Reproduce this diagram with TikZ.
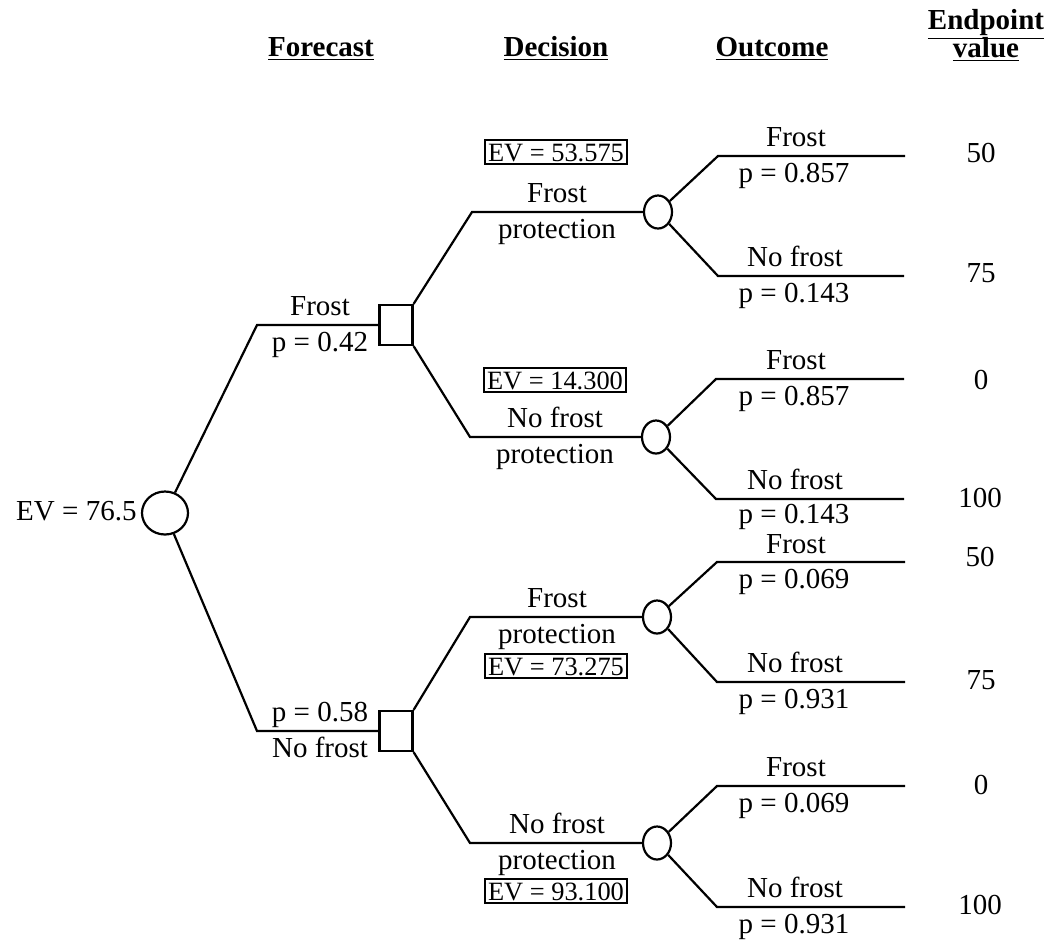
\documentclass[tikz,border=0pt]{standalone}
\usepackage{fontspec}
\setmainfont{Liberation Serif}
\usepackage{tikz}
\usetikzlibrary{positioning, shapes.geometric}

\begin{document}
\begin{tikzpicture}[x=0.5pt, y=-0.5pt,
    every node/.style={font=\fontsize{14.5}{17}\selectfont},
    branch/.style={line width=1.1pt},
    chance/.style={draw, line width=1.1pt, ellipse, minimum width=14pt, minimum height=16.5pt, inner sep=0pt},
    choice/.style={draw, line width=1.1pt, rectangle, minimum width=16.5pt, minimum height=20pt, inner sep=0pt},
    lbl/.style={inner sep=0pt, text height=9.7pt, text depth=2.2pt},
    evbox/.style={draw, line width=0.9pt, inner xsep=1.5pt, inner ysep=1.2pt, text height=9.5pt, text depth=0pt, font=\fontsize{13.2}{15}\selectfont},
    head/.style={anchor=base, font=\fontsize{14.5}{17}\selectfont\bfseries}]
    \useasboundingbox (0,0) rectangle (1049,939);

    % column headings
    \node (hForecast) [head] at (321,56) {\underline{Forecast}};
    \node (hDecision) [head] at (556,56) {\underline{Decision}};
    \node (hOutcome) [head] at (772,56) {\underline{Outcome}};
    \node (hEndpoint) [head] at (986,29) {\underline{Endpoint}};
    \node (hValue) [head] at (986,57) {\underline{value}};

    % root chance node
    \node (root) [chance, minimum width=23pt, minimum height=21.5pt] at (165,513) {};
    \node (ev0) [lbl, left=2pt of root] {EV = 76.5};

    % forecast branches
    \node (dU) [choice] at (396,325) {};
    \node (dL) [choice] at (396,731) {};
    \coordinate (fU) at (257,325);
    \coordinate (fL) at (257,731);
    \draw[branch] (root) -- (fU) -- (dU);
    \draw[branch] (root) -- (fL) -- (dL);
    \node (fU1) [lbl, above=2.5pt] at (320,325) {Frost};
    \node (fU2) [lbl, below=3.5pt] at (320,325) {p = 0.42};
    \node (fL1) [lbl, above=2.5pt] at (320,731) {p = 0.58};
    \node (fL2) [lbl, below=3.5pt] at (320,731) {No frost};

    % decision branches
    \node (cUU) [chance] at (658,212) {};
    \node (cUL) [chance] at (656,437) {};
    \node (cLU) [chance] at (657,617) {};
    \node (cLL) [chance] at (657,843) {};
    \coordinate (gUU) at (472,212);
    \coordinate (gUL) at (470,437);
    \coordinate (gLU) at (470,617);
    \coordinate (gLL) at (470,843);
    \draw[branch] (dU.north east) -- (gUU) -- (cUU);
    \draw[branch] (dU.south east) -- (gUL) -- (cUL);
    \draw[branch] (dL.north east) -- (gLU) -- (cLU);
    \draw[branch] (dL.south east) -- (gLL) -- (cLL);

    \node (tUU1) [lbl, above=2.5pt] at (557,212) {Frost};
    \node (tUU2) [lbl, below=3.5pt] at (557,212) {protection};
    \node (evUU) [evbox] at (556,152) {EV = 53.575};
    \node (tUL1) [lbl, above=2.5pt] at (555,437) {No frost};
    \node (tUL2) [lbl, below=3.5pt] at (555,437) {protection};
    \node (evUL) [evbox] at (555,380) {EV = 14.300};
    \node (tLU1) [lbl, above=2.5pt] at (557,617) {Frost};
    \node (tLU2) [lbl, below=3.5pt] at (557,617) {protection};
    \node (evLU) [evbox] at (556,666) {EV = 73.275};
    \node (tLL1) [lbl, above=2.5pt] at (557,843) {No frost};
    \node (tLL2) [lbl, below=3.5pt] at (557,843) {protection};
    \node (evLL) [evbox] at (556,891) {EV = 93.100};

    % outcome branches
    \coordinate (oUU1) at (718,156);
    \coordinate (oUU2) at (718,276);
    \coordinate (oUL1) at (716,379);
    \coordinate (oUL2) at (716,499);
    \coordinate (oLU1) at (717,562);
    \coordinate (oLU2) at (717,682);
    \coordinate (oLL1) at (717,786);
    \coordinate (oLL2) at (717,907);
    \coordinate (eUU1) at (905,156);
    \coordinate (eUU2) at (904,276);
    \coordinate (eUL1) at (904,379);
    \coordinate (eUL2) at (904,499);
    \coordinate (eLU1) at (905,562);
    \coordinate (eLU2) at (905,682);
    \coordinate (eLL1) at (905,786);
    \coordinate (eLL2) at (905,907);
    \draw[branch] (cUU) -- (oUU1) -- (eUU1);
    \draw[branch] (cUU) -- (oUU2) -- (eUU2);
    \draw[branch] (cUL) -- (oUL1) -- (eUL1);
    \draw[branch] (cUL) -- (oUL2) -- (eUL2);
    \draw[branch] (cLU) -- (oLU1) -- (eLU1);
    \draw[branch] (cLU) -- (oLU2) -- (eLU2);
    \draw[branch] (cLL) -- (oLL1) -- (eLL1);
    \draw[branch] (cLL) -- (oLL2) -- (eLL2);

    \node (sUU1) [lbl, above=2.5pt] at (796,156) {Frost};
    \node (pUU1) [lbl, below=3.5pt] at (794,156) {p = 0.857};
    \node (sUU2) [lbl, above=2.5pt] at (795,276) {No frost};
    \node (pUU2) [lbl, below=3.5pt] at (794,276) {p = 0.143};
    \node (sUL1) [lbl, above=2.5pt] at (796,379) {Frost};
    \node (pUL1) [lbl, below=3.5pt] at (794,379) {p = 0.857};
    \node (sUL2) [lbl, above=2.5pt] at (795,499) {No frost};
    \node (pUL2) [lbl, below=2.5pt] at (794,499) {p = 0.143};
    \node (sLU1) [lbl, above=2pt] at (796,562) {Frost};
    \node (pLU1) [lbl, below=3.5pt] at (794,562) {p = 0.069};
    \node (sLU2) [lbl, above=2.5pt] at (795,682) {No frost};
    \node (pLU2) [lbl, below=3.5pt] at (794,682) {p = 0.931};
    \node (sLL1) [lbl, above=2.5pt] at (796,786) {Frost};
    \node (pLL1) [lbl, below=3.5pt] at (794,786) {p = 0.069};
    \node (sLL2) [lbl, above=2.5pt] at (795,907) {No frost};
    \node (pLL2) [lbl, below=3.5pt] at (794,907) {p = 0.931};

    % endpoint values
    \node (vUU1) at (981,153) {50};
    \node (vUU2) at (981,273) {75};
    \node (vUL1) at (981,380) {0};
    \node (vUL2) at (980,498) {100};
    \node (vLU1) at (980,557) {50};
    \node (vLU2) at (981,680) {75};
    \node (vLL1) at (981,785) {0};
    \node (vLL2) at (980,905) {100};
\end{tikzpicture}
\end{document}
